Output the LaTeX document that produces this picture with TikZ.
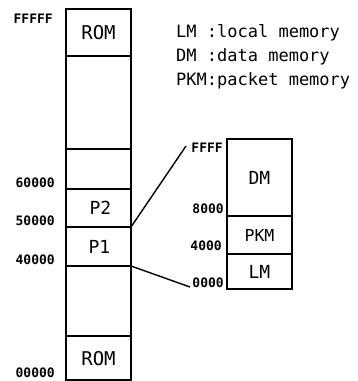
\documentclass[tikz,border=0pt]{standalone}
\usepackage{fontspec}
\newfontfamily\mono{DejaVu Sans Mono}
\tikzset{
  seg/.style={draw, line width=1.4pt, rectangle, inner sep=0pt, outer sep=0pt, minimum width=65pt},
  rseg/.style={draw, line width=1.4pt, rectangle, inner sep=0pt, outer sep=0pt, minimum width=65pt},
  blab/.style={font=\mono\fontsize{18}{20}\selectfont},
  addr/.style={font=\mono\bfseries\fontsize{13}{15}\selectfont, anchor=east, inner sep=0pt},
  legend/.style={font=\mono\fontsize{17}{19}\selectfont, anchor=west, inner sep=0pt},
  conn/.style={line width=1.4pt}
}
\begin{document}
\begin{tikzpicture}[x=1pt,y=-1pt]
\useasboundingbox (0,0) rectangle (357,381);
% left memory column (x 66..131)
\node[seg, minimum height=47pt] (rom1) at (98.5,32.5) {};
\node[seg, minimum height=93pt] (s2) at (98.5,102.5) {};
\node[seg, minimum height=40pt] (s3) at (98.5,169) {};
\node[seg, minimum height=38pt] (p2) at (98.5,208) {};
\node[seg, minimum height=39pt] (p1) at (98.5,246.5) {};
\node[seg, minimum height=70pt] (s6) at (98.5,301) {};
\node[seg, minimum height=44pt] (rom2) at (98.5,358) {};
\node[blab, font=\mono\fontsize{19}{21}\selectfont] at (rom1.center) {ROM};
\node[blab] at ([xshift=2pt]p2.center) {P2};
\node[blab] at ([xshift=1pt]p1.center) {P1};
\node[blab, font=\mono\fontsize{19}{21}\selectfont] at ([yshift=-1pt]rom2.center) {ROM};
% left addresses
\node[addr] (aF) at (53,19) {FFFFF};
\node[addr] (a6) at (55,183) {60000};
\node[addr] (a5) at (55,221) {50000};
\node[addr] (a4) at (55,260) {40000};
\node[addr] (a0) at (55,373) {00000};
% right memory column (x 227..292)
\node[rseg, minimum height=77pt] (dm) at (259.5,177.5) {};
\node[rseg, minimum height=38pt] (pkm) at (259.5,235) {};
\node[rseg, minimum height=35pt] (lm) at (259.5,271.5) {};
\node[blab] at (dm.center) {DM};
\node[blab, font=\mono\fontsize{16.5}{18}\selectfont] at (pkm.center) {PKM};
\node[blab] at (lm.center) {LM};
% right addresses
\node[addr] (bF) at (223,148) {FFFF};
\node[addr] (b8) at (224,209) {8000};
\node[addr] (b4) at (222,246) {4000};
\node[addr] (b0) at (224,283) {0000};
% connectors
\coordinate (c1) at (186,146);
\coordinate (c2) at (190,287);
\draw[conn] (p1.north east) -- (c1);
\draw[conn] (p1.south east) -- (c2);
% legend
\node[legend] (l1) at (176,33) {LM :local memory};
\node[legend] (l2) at (176,57) {DM :data memory};
\node[legend] (l3) at (176,81) {PKM:packet memory};
\end{tikzpicture}
\end{document}
